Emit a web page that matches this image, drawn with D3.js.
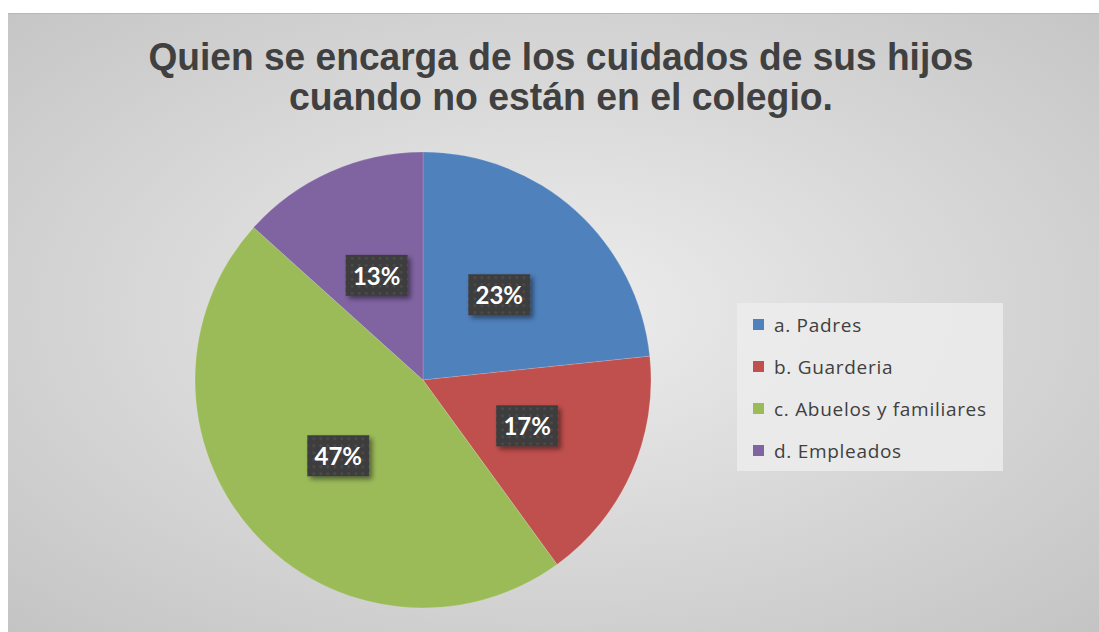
<!DOCTYPE html>
<html>
<head>
<meta charset="utf-8">
<script src="https://cdn.jsdelivr.net/npm/d3@7"></script>
<style>
  body { margin: 0; background: #ffffff; }
  svg { display: block; }
</style>
</head>
<body>
<script>
(function(){

    //chart data
    var categories = ["a. Padres", "b. Guarderia", "c. Abuelos y familiares", "d. Empleados"];
    var counts = [7, 5, 14, 4];
    var pctLabels = ["23%", "17%", "47%", "13%"];
    var colors = ["#4f81bd", "#c0504d", "#9bbb59", "#8064a2"];
    var titleLines = ["Quien se encarga de los cuidados de sus hijos", "cuando no están en el colegio."];

    var width = 1099,
        height = 632;

    var svg = d3.select("body")
        .append("svg")
        .attr("width", width)
        .attr("height", height);

    var defs = svg.append("defs");

    //background gradient
    var bg = defs.append("radialGradient")
        .attr("id", "bgGrad")
        .attr("cx", "50%").attr("cy", "48%")
        .attr("r", "72%");
    bg.append("stop").attr("offset", "0%").attr("stop-color", "#ededed");
    bg.append("stop").attr("offset", "100%").attr("stop-color", "#c4c4c4");

    //dotted pattern for data label boxes
    var pat = defs.append("pattern")
        .attr("id", "dots")
        .attr("width", 7).attr("height", 7)
        .attr("patternUnits", "userSpaceOnUse");
    pat.append("rect").attr("width", 7).attr("height", 7).attr("fill", "#3c3c3c");
    pat.append("circle").attr("cx", 3.5).attr("cy", 3.5).attr("r", 1.4).attr("fill", "#4c4c4c");

    //label shadow
    var f = defs.append("filter")
        .attr("id", "shadow")
        .attr("x", "-30%").attr("y", "-30%")
        .attr("width", "160%").attr("height", "170%");
    f.append("feDropShadow")
        .attr("dx", 3).attr("dy", 3)
        .attr("stdDeviation", 2.5)
        .attr("flood-color", "#000")
        .attr("flood-opacity", 0.45);

    //chart area
    svg.append("rect")
        .attr("x", 8).attr("y", 13)
        .attr("width", width - 8).attr("height", height - 13)
        .attr("fill", "url(#bgGrad)");
    svg.append("line")
        .attr("x1", 8).attr("x2", width)
        .attr("y1", 13.5).attr("y2", 13.5)
        .attr("stroke", "#b8b8b8")
        .attr("stroke-width", 1);

    //title
    var titleY = [70, 110],
        titleLen = [825, 544];
    svg.selectAll(".title")
        .data(titleLines)
        .enter()
        .append("text")
        .attr("class", "title")
        .attr("x", 561)
        .attr("y", function(d, i){ return titleY[i]; })
        .attr("text-anchor", "middle")
        .attr("textLength", function(d, i){ return titleLen[i]; })
        .attr("lengthAdjust", "spacingAndGlyphs")
        .style("font-family", "'Liberation Sans', Arial, sans-serif")
        .style("font-weight", "bold")
        .style("font-size", "38px")
        .style("fill", "#404040")
        .text(function(d){ return d; });

    //pie
    var cx = 423, cy = 380, radius = 228;

    var pie = d3.pie()
        .sort(null)
        .value(function(d){ return d; });

    var arc = d3.arc()
        .innerRadius(0)
        .outerRadius(radius);

    var labelArc = d3.arc()
        .innerRadius(radius * 0.5)
        .outerRadius(radius * 0.5);

    var arcs = pie(counts);

    var g = svg.append("g")
        .attr("transform", "translate(" + cx + "," + cy + ")");

    g.selectAll(".slice")
        .data(arcs)
        .enter()
        .append("path")
        .attr("class", "slice")
        .attr("d", arc)
        .attr("fill", function(d, i){ return colors[i]; })
        .attr("stroke", "rgba(255,255,255,0.25)")
        .attr("stroke-width", 0.6);

    //data labels
    var labels = g.selectAll(".dlabel")
        .data(arcs)
        .enter()
        .append("g")
        .attr("class", "dlabel")
        .attr("transform", function(d){
            var c = labelArc.centroid(d);
            return "translate(" + c[0] + "," + c[1] + ")";
        });

    labels.append("rect")
        .attr("x", -31).attr("y", -21)
        .attr("width", 62).attr("height", 41)
        .attr("fill", "url(#dots)")
        .attr("filter", "url(#shadow)");

    labels.append("text")
        .attr("text-anchor", "middle")
        .attr("y", 9)
        .style("font-family", "Lato, 'Open Sans', sans-serif")
        .style("font-weight", "bold")
        .style("font-size", "24px")
        .style("fill", "#ffffff")
        .text(function(d, i){ return pctLabels[i]; });

    //legend
    var legend = svg.append("g")
        .attr("transform", "translate(737,303)");

    legend.append("rect")
        .attr("width", 266).attr("height", 168)
        .attr("fill", "#ececec")
        .attr("opacity", 0.85);

    var rowY = d3.scalePoint()
        .domain(categories)
        .range([22, 148]);

    var items = legend.selectAll(".item")
        .data(categories)
        .enter()
        .append("g")
        .attr("class", "item")
        .attr("transform", function(d){ return "translate(0," + rowY(d) + ")"; });

    items.append("rect")
        .attr("x", 16).attr("y", -6)
        .attr("width", 11).attr("height", 11)
        .attr("fill", function(d, i){ return colors[i]; });

    items.append("text")
        .attr("x", 37)
        .attr("y", 7)
        .style("font-family", "'Open Sans', sans-serif")
        .style("font-size", "19px")
        .style("letter-spacing", "0.7px")
        .style("fill", "#404040")
        .text(function(d){ return d; });

})();
</script>
</body>
</html>
